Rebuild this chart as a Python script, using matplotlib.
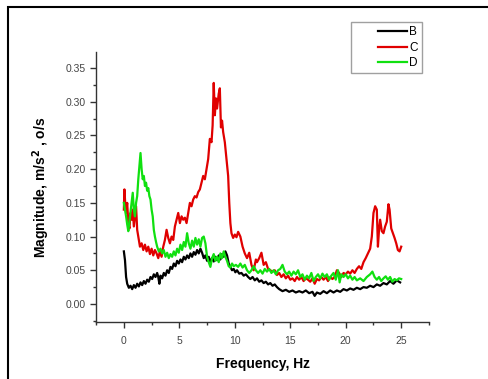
import matplotlib
matplotlib.use("Agg")
import matplotlib.pyplot as plt
from matplotlib.patches import Rectangle
from matplotlib.ticker import MultipleLocator
from matplotlib.legend_handler import HandlerLine2D

plt.rcParams['font.family'] = ['Liberation Sans', 'DejaVu Sans']

# series B (black)
freq_b = [0.0, 0.1, 0.2, 0.3, 0.45, 0.6, 0.75, 0.9, 1.05, 1.2, 1.35, 1.5, 1.65, 1.8, 1.95,
          2.1, 2.25, 2.4, 2.55, 2.7, 2.85, 3.0, 3.1, 3.2, 3.3, 3.45, 3.6, 3.75, 3.9, 4.05,
          4.2, 4.35, 4.5, 4.65, 4.8, 4.95, 5.1, 5.25, 5.4, 5.55, 5.7, 5.85, 6.0, 6.15, 6.3,
          6.45, 6.6, 6.75, 6.9, 7.05, 7.2, 7.35, 7.5, 7.65, 7.8, 7.95, 8.1, 8.25, 8.4, 8.55,
          8.7, 8.85, 9.0, 9.15, 9.3, 9.45, 9.6, 9.75, 9.9, 10.05, 10.2, 10.4, 10.6, 10.8,
          11.0, 11.2, 11.4, 11.6, 11.8, 12.0, 12.2, 12.4, 12.6, 12.8, 13.0, 13.2, 13.4,
          13.6, 13.8, 14.0, 14.3, 14.6, 14.9, 15.2, 15.5, 15.8, 16.1, 16.4, 16.7, 17.0,
          17.2, 17.4, 17.7, 18.0, 18.3, 18.6, 18.9, 19.2, 19.5, 19.8, 20.1, 20.4, 20.7,
          21.0, 21.3, 21.6, 21.9, 22.2, 22.5, 22.8, 23.1, 23.4, 23.7, 24.0, 24.3, 24.6, 24.9]
mag_b = [0.078, 0.065, 0.040, 0.030, 0.024, 0.027, 0.022, 0.028, 0.024, 0.030, 0.026, 0.032,
         0.028, 0.034, 0.030, 0.036, 0.033, 0.040, 0.037, 0.044, 0.040, 0.046, 0.040, 0.030,
         0.042, 0.038, 0.046, 0.042, 0.050, 0.046, 0.055, 0.052, 0.060, 0.056, 0.064, 0.060,
         0.066, 0.062, 0.070, 0.066, 0.072, 0.068, 0.075, 0.070, 0.077, 0.073, 0.080, 0.075,
         0.082, 0.076, 0.068, 0.072, 0.064, 0.070, 0.062, 0.068, 0.063, 0.070, 0.065, 0.072,
         0.066, 0.074, 0.070, 0.078, 0.072, 0.060, 0.055, 0.050, 0.052, 0.047, 0.050, 0.045,
         0.046, 0.042, 0.044, 0.040, 0.037, 0.040, 0.035, 0.038, 0.033, 0.035, 0.031, 0.033,
         0.029, 0.031, 0.027, 0.029, 0.025, 0.022, 0.019, 0.021, 0.018, 0.020, 0.017, 0.019,
         0.017, 0.020, 0.016, 0.018, 0.012, 0.017, 0.015, 0.019, 0.016, 0.020, 0.017, 0.020,
         0.018, 0.022, 0.020, 0.023, 0.021, 0.024, 0.022, 0.025, 0.024, 0.027, 0.025, 0.029,
         0.027, 0.031, 0.029, 0.034, 0.030, 0.035, 0.032]

# series C (red)
freq_c = [0.0, 0.05, 0.12, 0.2, 0.3, 0.4, 0.5, 0.6, 0.7, 0.8, 0.9, 1.0, 1.1, 1.2, 1.3, 1.45,
          1.6, 1.75, 1.9, 2.05, 2.2, 2.35, 2.5, 2.65, 2.8, 2.95, 3.1, 3.25, 3.4, 3.55, 3.7,
          3.85, 4.0, 4.15, 4.3, 4.45, 4.6, 4.75, 4.9, 5.05, 5.2, 5.35, 5.5, 5.65, 5.8, 5.95,
          6.1, 6.25, 6.4, 6.55, 6.7, 6.85, 7.0, 7.15, 7.3, 7.45, 7.6, 7.75, 7.9, 8.0, 8.1,
          8.2, 8.3, 8.4, 8.55, 8.65, 8.75, 8.85, 8.95, 9.1, 9.25, 9.4, 9.5, 9.6, 9.7, 9.85,
          10.0, 10.15, 10.3, 10.5, 10.7, 10.9, 11.1, 11.3, 11.5, 11.7, 11.9, 12.0, 12.2,
          12.4, 12.6, 12.8, 13.0, 13.2, 13.4, 13.6, 13.8, 14.0, 14.2, 14.4, 14.6, 14.8,
          15.0, 15.2, 15.4, 15.6, 15.8, 16.0, 16.2, 16.4, 16.6, 16.8, 17.0, 17.2, 17.4,
          17.6, 17.8, 18.0, 18.2, 18.4, 18.6, 18.8, 19.0, 19.2, 19.4, 19.6, 19.8, 20.0,
          20.2, 20.4, 20.6, 20.8, 21.0, 21.2, 21.4, 21.6, 21.8, 22.0, 22.2, 22.35, 22.5,
          22.65, 22.8, 22.9, 23.0, 23.1, 23.25, 23.4, 23.55, 23.7, 23.85, 23.95, 24.1,
          24.25, 24.4, 24.55, 24.7, 24.85, 25.0]
mag_c = [0.140, 0.170, 0.150, 0.135, 0.150, 0.120, 0.112, 0.135, 0.125, 0.140, 0.115, 0.130,
         0.145, 0.110, 0.100, 0.085, 0.090, 0.080, 0.088, 0.078, 0.085, 0.074, 0.082, 0.072,
         0.080, 0.075, 0.068, 0.078, 0.070, 0.085, 0.095, 0.110, 0.098, 0.090, 0.100, 0.095,
         0.115, 0.125, 0.135, 0.120, 0.130, 0.125, 0.128, 0.120, 0.135, 0.150, 0.145, 0.155,
         0.160, 0.158, 0.166, 0.170, 0.180, 0.190, 0.185, 0.200, 0.215, 0.245, 0.240, 0.265,
         0.328, 0.280, 0.305, 0.290, 0.312, 0.320, 0.262, 0.272, 0.255, 0.240, 0.215, 0.190,
         0.150, 0.120, 0.105, 0.098, 0.103, 0.099, 0.107, 0.100, 0.085, 0.075, 0.068, 0.076,
         0.058, 0.050, 0.066, 0.062, 0.068, 0.076, 0.058, 0.062, 0.052, 0.050, 0.048, 0.050,
         0.043, 0.046, 0.040, 0.044, 0.038, 0.042, 0.036, 0.038, 0.034, 0.040, 0.036, 0.040,
         0.034, 0.038, 0.036, 0.033, 0.038, 0.030, 0.037, 0.035, 0.040, 0.036, 0.040, 0.034,
         0.040, 0.037, 0.040, 0.050, 0.046, 0.040, 0.046, 0.044, 0.048, 0.045, 0.050, 0.046,
         0.052, 0.056, 0.052, 0.062, 0.068, 0.075, 0.082, 0.100, 0.135, 0.145, 0.140, 0.085,
         0.110, 0.125, 0.108, 0.105, 0.115, 0.122, 0.148, 0.140, 0.112, 0.105, 0.098, 0.090,
         0.080, 0.078, 0.085]

# series D (green)
freq_d = [0.0, 0.1, 0.2, 0.3, 0.4, 0.5, 0.6, 0.7, 0.8, 0.9, 1.0, 1.1, 1.2, 1.3, 1.4, 1.5,
          1.6, 1.7, 1.8, 1.9, 2.0, 2.1, 2.2, 2.3, 2.4, 2.5, 2.6, 2.7, 2.8, 2.9, 3.0, 3.15,
          3.3, 3.45, 3.6, 3.75, 3.9, 4.05, 4.2, 4.35, 4.5, 4.65, 4.8, 4.95, 5.1, 5.25, 5.4,
          5.55, 5.7, 5.85, 6.0, 6.15, 6.3, 6.45, 6.6, 6.75, 6.9, 7.05, 7.2, 7.35, 7.5, 7.65,
          7.8, 7.95, 8.1, 8.25, 8.4, 8.55, 8.7, 8.85, 9.0, 9.15, 9.3, 9.45, 9.6, 9.75, 9.9,
          10.1, 10.3, 10.5, 10.7, 10.9, 11.1, 11.3, 11.5, 11.7, 11.9, 12.1, 12.3, 12.5, 12.7,
          12.9, 13.1, 13.3, 13.5, 13.7, 13.9, 14.1, 14.3, 14.5, 14.7, 14.9, 15.1, 15.3,
          15.5, 15.7, 15.9, 16.1, 16.3, 16.5, 16.7, 16.9, 17.1, 17.3, 17.5, 17.7, 17.9,
          18.1, 18.3, 18.5, 18.7, 18.9, 19.1, 19.3, 19.45, 19.6, 19.8, 20.0, 20.2, 20.4,
          20.6, 20.8, 21.0, 21.3, 21.6, 21.9, 22.2, 22.4, 22.6, 22.8, 23.0, 23.2, 23.4,
          23.6, 23.8, 24.0, 24.2, 24.4, 24.6, 24.8, 25.0]
mag_d = [0.150, 0.140, 0.130, 0.118, 0.108, 0.122, 0.135, 0.150, 0.165, 0.140, 0.130, 0.150,
         0.160, 0.185, 0.205, 0.224, 0.200, 0.185, 0.190, 0.175, 0.180, 0.168, 0.172, 0.160,
         0.155, 0.140, 0.130, 0.110, 0.100, 0.092, 0.085, 0.078, 0.082, 0.075, 0.080, 0.070,
         0.076, 0.068, 0.074, 0.070, 0.078, 0.072, 0.082, 0.076, 0.088, 0.080, 0.092, 0.085,
         0.105, 0.090, 0.082, 0.094, 0.085, 0.098, 0.088, 0.096, 0.085, 0.098, 0.100, 0.090,
         0.070, 0.062, 0.055, 0.068, 0.074, 0.064, 0.070, 0.062, 0.075, 0.068, 0.078, 0.070,
         0.064, 0.056, 0.054, 0.060, 0.056, 0.058, 0.055, 0.060, 0.054, 0.058, 0.050, 0.046,
         0.050, 0.056, 0.050, 0.046, 0.050, 0.045, 0.052, 0.048, 0.052, 0.046, 0.050, 0.044,
         0.050, 0.052, 0.058, 0.048, 0.044, 0.048, 0.042, 0.048, 0.044, 0.050, 0.040, 0.044,
         0.036, 0.042, 0.038, 0.046, 0.034, 0.040, 0.044, 0.038, 0.045, 0.040, 0.044, 0.036,
         0.042, 0.046, 0.036, 0.050, 0.032, 0.044, 0.040, 0.044, 0.038, 0.042, 0.036, 0.040,
         0.035, 0.038, 0.034, 0.040, 0.044, 0.048, 0.040, 0.036, 0.040, 0.034, 0.038, 0.041,
         0.036, 0.040, 0.033, 0.037, 0.035, 0.038, 0.037]

labels = ["B", "C", "D"]
colors = ["#000000", "#e00000", "#10e010"]

fig = plt.figure(figsize=(4.88, 3.79), dpi=100)
ax = fig.add_axes([0.197, 0.150, 0.682, 0.713])

ax.plot(freq_b, mag_b, color=colors[0], lw=1.6, label=labels[0])
ax.plot(freq_c, mag_c, color=colors[1], lw=1.6, label=labels[1])
ax.plot(freq_d, mag_d, color=colors[2], lw=1.6, label=labels[2])

ax.set_xlim(-2.5, 27.5)
ax.set_ylim(-0.027, 0.374)
ax.xaxis.set_major_locator(MultipleLocator(5))
ax.xaxis.set_minor_locator(MultipleLocator(2.5))
ax.yaxis.set_major_locator(MultipleLocator(0.05))
ax.yaxis.set_minor_locator(MultipleLocator(0.025))
ax.yaxis.set_major_formatter(plt.FormatStrFormatter('%.2f'))

ax.spines['top'].set_visible(False)
ax.spines['right'].set_visible(False)
for s in ['left', 'bottom']:
    ax.spines[s].set_color('#333333')
    ax.spines[s].set_linewidth(1.0)
ax.tick_params(which='major', direction='out', length=4, width=1, color='#333333',
               labelsize=7.5, labelcolor='#444444')
ax.tick_params(which='minor', direction='out', length=2.5, width=1, color='#333333')
ax.tick_params(axis='x', pad=6)

ax.set_xlabel("Frequency, Hz", fontsize=10, fontweight='bold', labelpad=8)
ax.set_ylabel("Magnitude, m/s$^\\mathbf{2}$ , o/s", fontsize=10, fontweight='bold', labelpad=10)

# legend lines sit to the right, leaving empty room on the left of the box
leg = fig.legend(loc='upper left', bbox_to_anchor=(351 / 488, 1 - 22 / 379),
                 fontsize=8.5, frameon=True, fancybox=False, handlelength=4.4,
                 handletextpad=0.2, borderpad=0.35, labelspacing=0.3,
                 borderaxespad=0.0, handler_map={plt.Line2D: HandlerLine2D(xpad=1.9)})
leg.get_frame().set_edgecolor('#888888')
leg.get_frame().set_linewidth(1.0)

# outer frame around the figure (cut off on the right and bottom)
fig.add_artist(Rectangle((8 / 488, -0.1), 2.0, 1 - 7 / 379 + 0.1,
                         transform=fig.transFigure, fill=False, lw=1.5, color='black'))

fig.savefig("out.png", dpi=100)
